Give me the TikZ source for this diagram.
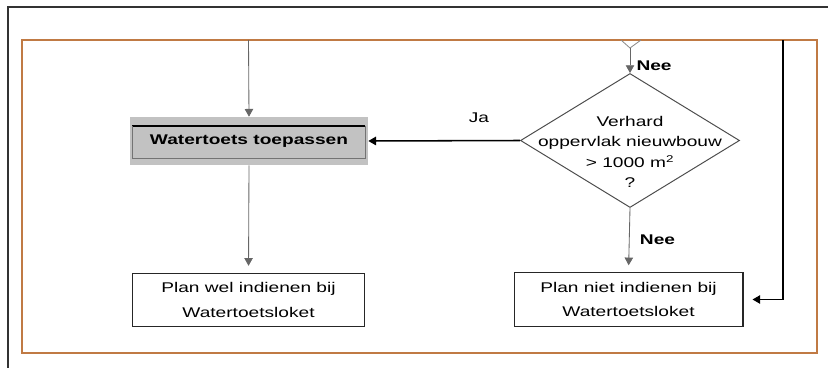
\documentclass[tikz,border=0pt]{standalone}
\usepackage{fontspec}
\setmainfont{Liberation Sans}[FakeStretch=1.36]
\usepackage{xcolor}
\usetikzlibrary{positioning,arrows.meta,shapes.geometric}
\definecolor{frameorange}{RGB}{192,122,68}
\definecolor{boxgray}{RGB}{194,194,194}

\begin{document}
\begin{tikzpicture}[x=0.025cm, y=-0.025cm,
		plan/.style={draw=black!85, fill=white, rectangle, line width=0.8pt,
				minimum width=5.8cm, minimum height=1.33cm, align=center,
				font=\fontsize{10pt}{17.6pt}\selectfont},
		apply/.style={fill=boxgray, rectangle, minimum width=5.95cm, minimum height=1.2cm,
				align=center, font=\fontsize{10pt}{12pt}\selectfont\bfseries},
		decision/.style={draw=black!70, diamond, line width=0.7pt,
				minimum width=5.475cm, minimum height=3.35cm, inner sep=0pt},
		ar/.style={-{Triangle[width=6pt,length=5.5pt]}, draw=black!60, line width=0.6pt},
		arb/.style={-{Triangle[width=6pt,length=5.5pt]}, draw=black, line width=1.1pt},
		lbl/.style={font=\fontsize{10pt}{12pt}\selectfont},
	]
	\useasboundingbox (0,0) rectangle (828,368);
	% page frame and the orange block
	\draw[black!80, line width=0.9pt] (8,368) -- (8,7) -- (828,7);
	\draw[frameorange, line width=1.2pt] (22,40) rectangle (817,353);

	% left column
	\coordinate (intop) at (248.5,40);
	\node[apply] (toets) at (249,141) {Watertoets toepassen};
	\draw[black, line width=1pt] (132,126) -- (365,126);
	\draw[black!55, line width=0.6pt] (132,126) -- (132,158) -- (365,158) -- (365,126);
	\node[plan] (wel) at (248.5,300) {Plan wel indienen bij\\Watertoetsloket};
	\draw[ar] (intop) -- (toets.north);
	\draw[ar, shorten >=5pt] (toets.south) -- (wel.north);

	% right column
	\coordinate (prev) at (630,48);
	\draw[black!45, line width=0.6pt] (621,40) -- (prev) -- (641,40);
	\node[decision] (check) at (630,140.5) {};
	\node[align=center, font=\fontsize{10pt}{14.4pt}\selectfont] (checktxt) at (630,152)
		{Verhard\\oppervlak nieuwbouw\\> 1000 m\textsuperscript{2}\\?};
	\node[plan, minimum width=5.72cm] (niet) at (628.5,299.5) {Plan niet indienen bij\\Watertoetsloket};
	\draw[ar] (prev) -- node[lbl, right=1pt, font=\fontsize{10pt}{12pt}\selectfont\bfseries, pos=0.7] {Nee} (check.north);
	\draw[arb] (check.west) -- node[lbl, above=9pt, pos=0.27] {Ja} (toets.east);
	\draw[ar, shorten >=5pt] (check.south) -- node[lbl, right=4pt, font=\fontsize{10pt}{12pt}\selectfont\bfseries] {Nee} (niet.north);
	\coordinate (skip) at (783,40);
	\draw[arb, shorten >=6.4pt] (skip) |- (niet.east);
\end{tikzpicture}
\end{document}
